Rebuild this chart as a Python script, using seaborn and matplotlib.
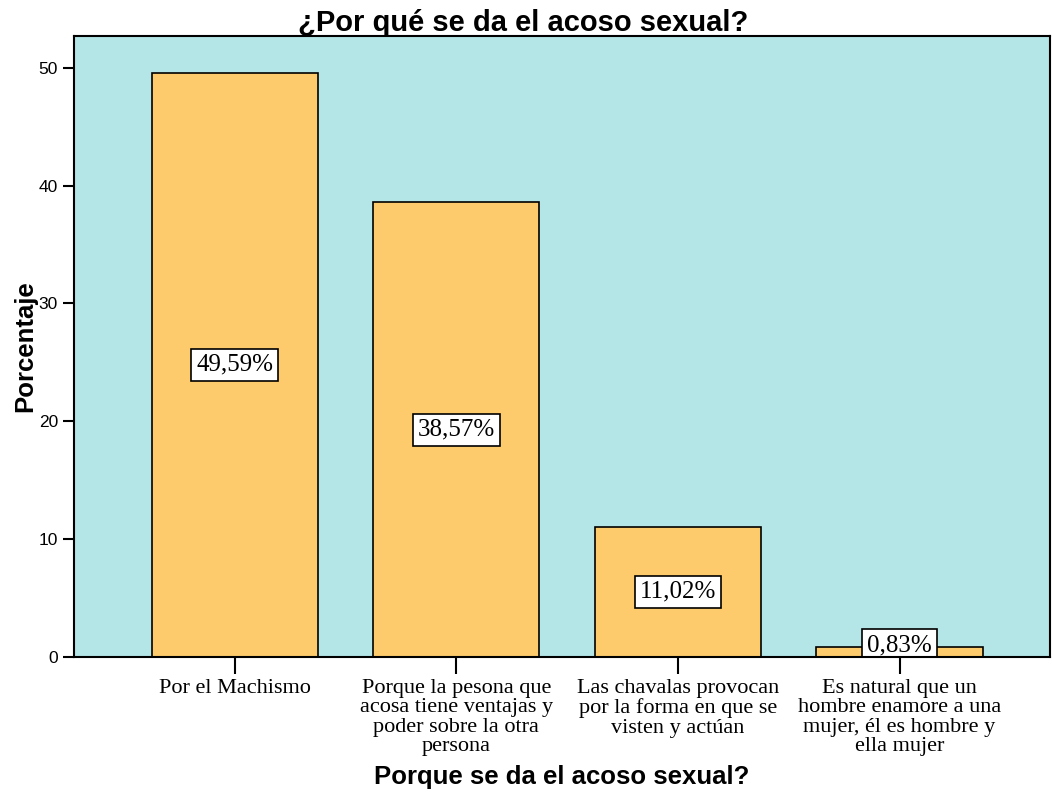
import matplotlib
matplotlib.use("Agg")
import matplotlib.pyplot as plt
import seaborn as sns
import pandas as pd

BG_AX = "#b4e5e7"
BAR = "#fdcb6b"

categorias = [
    "Por el Machismo",
    "Porque la pesona que\nacosa tiene ventajas y\npoder sobre la otra\npersona",
    "Las chavalas provocan\npor la forma en que se\nvisten y actúan",
    "Es natural que un\nhombre enamore a una\nmujer, él es hombre y\nella mujer",
]
porcentajes = [49.59, 38.57, 11.02, 0.83]
etiquetas = ["49,59%", "38,57%", "11,02%", "0,83%"]

df = pd.DataFrame({"cat": categorias, "pct": porcentajes})

sns.set_style("ticks")
plt.rcParams["font.family"] = ["Liberation Sans", "DejaVu Sans"]
plt.rcParams["text.color"] = "black"
plt.rcParams["xtick.color"] = "black"
plt.rcParams["ytick.color"] = "black"
plt.rcParams["axes.labelcolor"] = "black"

SERIF = ["Liberation Serif", "DejaVu Serif"]

fig = plt.figure(figsize=(10.52, 8), dpi=100)
ax = fig.add_axes([0.0703, 0.179, 0.928, 0.776])
ax.set_facecolor(BG_AX)

sns.barplot(data=df, x="cat", y="pct", color=BAR, saturation=1, width=0.75,
            edgecolor="black", linewidth=1.2, ax=ax)

for i, (v, lab) in enumerate(zip(porcentajes, etiquetas)):
    ax.text(i, max(v / 2, 1.0), lab, ha="center", va="center",
            fontsize=18, family=SERIF, clip_on=True,
            bbox=dict(boxstyle="square,pad=0.2", fc="white", ec="black", lw=1.2),
            zorder=1.5)

ax.set_xlim(-0.725, 3.68)
ax.set_ylim(0, 52.7)
ax.set_yticks([0, 10, 20, 30, 40, 50])
ax.tick_params(axis="y", labelsize=12.5, length=8, width=1.5, direction="out")
ax.tick_params(axis="x", length=12, width=1.5, direction="out", pad=4)
for t in ax.get_xticklabels():
    t.set_family(SERIF)
    t.set_fontsize(16)
    t.set_linespacing(1.03)

for s in ax.spines.values():
    s.set_color("black")
    s.set_linewidth(1.5)
    s.set_zorder(3)

ax.set_xlabel("Porque se da el acoso sexual?", fontsize=18.5, fontweight="bold", labelpad=6)
ax.set_ylabel("Porcentaje", fontsize=18.5, fontweight="bold", labelpad=1)
fig.text(0.497, 0.954, "¿Por qué se da el acoso sexual?", fontsize=21,
         fontweight="bold", ha="center", va="bottom")

fig.savefig("out.png", dpi=100, facecolor="white")
